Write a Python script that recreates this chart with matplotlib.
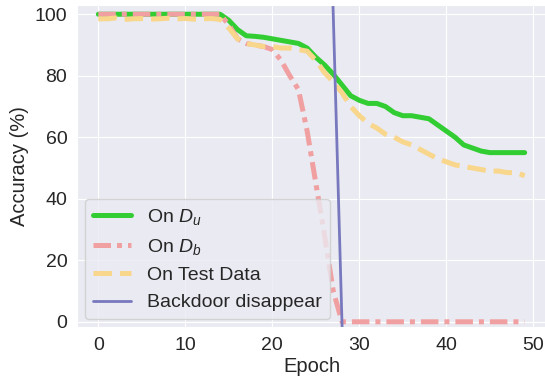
import numpy as np
import matplotlib
matplotlib.use("Agg")
import matplotlib.pyplot as plt
import seaborn as sns

sns.set_style("darkgrid")
plt.rcParams["font.family"] = ["Liberation Sans", "DejaVu Sans"]
plt.rcParams["mathtext.fontset"] = "custom"
plt.rcParams["mathtext.rm"] = "Liberation Sans"
plt.rcParams["mathtext.it"] = "Liberation Sans:italic"

epochs = list(range(50))

acc_du = [100, 100, 100, 100, 100, 100, 100, 100, 100, 100,
          100, 100, 100, 100, 100, 98, 95, 93, 92.8, 92.5,
          92, 91.5, 91, 90.5, 89, 86, 83.5, 80.5, 77, 73.5,
          72, 71, 71, 70, 68, 67, 67, 66.5, 66, 64,
          62, 60, 57.5, 56.5, 55.5, 55, 55, 55, 55, 55]

acc_db = [100, 100, 100, 100, 100, 100, 100, 100, 100, 100,
          100, 100, 100, 100, 100, 96.5, 92, 90.5, 90, 89.5,
          88.5, 85, 80, 75.5, 62, 45, 28, 10, 0, 0,
          0, 0, 0, 0, 0, 0, 0, 0, 0, 0,
          0, 0, 0, 0, 0, 0, 0, 0, 0, 0]

acc_test = [98.5, 98.5, 98.8, 98.3, 98.5, 98.6, 98.4, 98.5, 98.7, 98.5,
            98.6, 98.4, 98.5, 98.6, 98.3, 95.5, 92, 90.5, 90, 89.5,
            89.5, 89, 89, 88.5, 88, 85, 81, 78, 74.5, 70,
            67, 64.5, 63, 61, 60, 58.5, 57.5, 56, 54.5, 53,
            52, 51, 50.5, 50, 49.5, 49, 49, 48.5, 48.5, 47.5]

backdoor_x = [26.9, 28.1]
backdoor_y = [110, -10]

fig = plt.figure(figsize=(5.45, 3.79), dpi=100)
ax = fig.add_axes([77 / 545, 1 - 327 / 379, 469 / 545, 322 / 379])

ax.plot(epochs, acc_du, color="#32cd32", lw=3.6, label="On $D_u$")
ax.plot(epochs, acc_db, color="#f0a0a0", lw=3.6, linestyle=(0, (3.5, 1.2, 1, 1.2)), label="On $D_b$")
ax.plot(epochs, acc_test, color="#f8d68c", lw=3.6, linestyle="--", label="On Test Data")
ax.plot(backdoor_x, backdoor_y, color="#7878be", lw=2, label="Backdoor disappear")

ax.set_xlim(-2.45, 51.45)
ax.set_ylim(-1.7, 103)
ax.set_xticks([0, 10, 20, 30, 40, 50])
ax.set_yticks([0, 20, 40, 60, 80, 100])
ax.tick_params(labelsize=14, colors=".15")
ax.set_xlabel("Epoch", fontsize=14.5, color=".15", labelpad=2)
ax.set_ylabel("Accuracy (%)", fontsize=14.5, color=".15")
ax.legend(loc="lower left", fontsize=14, borderaxespad=0.4)

fig.savefig("out.png", dpi=100)
